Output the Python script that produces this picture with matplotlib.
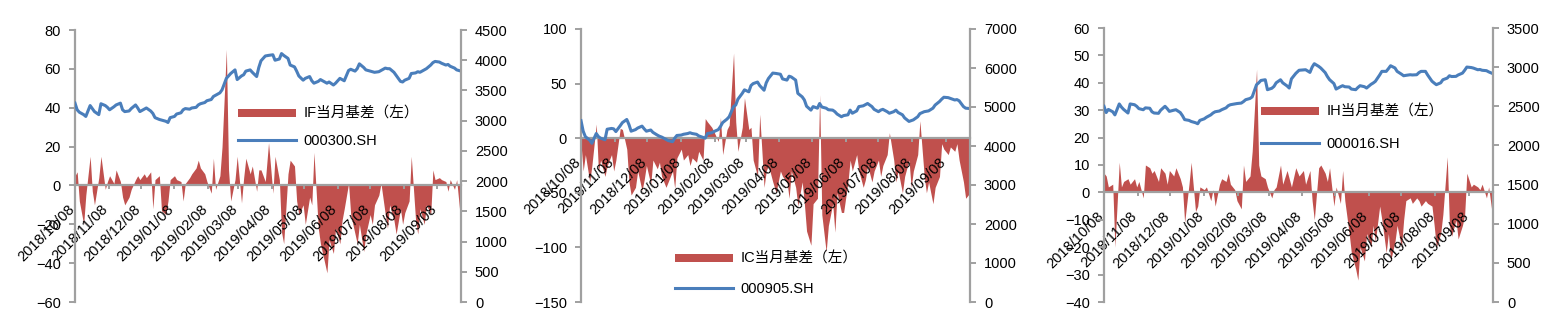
import numpy as np
import pandas as pd
import matplotlib
matplotlib.use('Agg')
import matplotlib.pyplot as plt
import matplotlib.dates as mdates
from matplotlib.transforms import ScaledTranslation

plt.rcParams['font.family'] = ['Liberation Sans', 'Noto Sans CJK SC', 'DejaVu Sans']

# ---------------- data ----------------
trading_days = pd.bdate_range('2018-10-08', '2019-09-30')
N_POINTS = 128
dates = trading_days[np.linspace(0, len(trading_days) - 1, N_POINTS).round().astype(int)]

tick_dates = pd.date_range('2018-10-08', '2019-09-08', freq=pd.DateOffset(months=1))

if_basis = [5, 7, -8, -20, -5, 15, -3, -10, 4, 15, -2, 2, 5, 1, 8, 2, -6, -10, -6, -2,
            3, 5, 3, 6, 4, 7, -12, 3, 5, -13, -15, -8, 3, 5, 3, 2, -8, 1, 4, 6,
            9, 13, 9, 6, 2, -4, 14, -2, 5, 20, 70, 8, -8, 3, 15, -9, 4, 14, 6, 10,
            -3, 8, 8, 2, 22, -4, 15, 3, -24, -30, 6, 13, 10, -8, -15, -10, -20, -6, -10, 17,
            -22, -30, -40, -45, -28, -35, -22, -30, -18, -12, 1, -15, -25, -30, -20, -34, -25, -15, -20, -10,
            -5, 1, -15, -22, -10, -18, -25, -12, -20, -14, -8, 15, -18, -25, -12, -20, -10, -15, 8, 3,
            4, 3, 2, -3, 3, -2, 3, -20]
hs300 = [3290, 3180, 3140, 3100, 3070, 3250, 3200, 3150, 3100, 3280, 3250, 3220, 3180, 3230, 3260, 3290,
         3180, 3150, 3160, 3200, 3260, 3210, 3150, 3190, 3210, 3160, 3120, 3050, 3020, 3010, 2990, 2970,
         3050, 3070, 3110, 3130, 3180, 3200, 3190, 3210, 3220, 3260, 3280, 3300, 3330, 3350, 3400, 3420,
         3460, 3510, 3700, 3740, 3780, 3840, 3680, 3740, 3760, 3820, 3840, 3800, 3730, 3880, 3990, 4070,
         4080, 4090, 4000, 4020, 4110, 4080, 4030, 3920, 3890, 3820, 3740, 3670, 3700, 3730, 3660, 3620,
         3650, 3680, 3640, 3620, 3640, 3590, 3620, 3700, 3680, 3660, 3830, 3850, 3820, 3860, 3940, 3880,
         3840, 3820, 3810, 3800, 3810, 3830, 3870, 3860, 3860, 3800, 3750, 3650, 3640, 3670, 3700, 3780,
         3790, 3810, 3800, 3840, 3860, 3920, 3960, 3980, 3970, 3950, 3920, 3930, 3900, 3870, 3840, 3820]

ic_basis = [-5, -30, -15, -40, -25, 13, -30, -20, -35, -25, -15, -30, -20, 9, 8, -10, -40, -52, -45, -30,
            -48, -38, -25, -42, -20, -28, -22, -35, -45, -40, -30, -46, -18, -10, -20, -15, -25, -18, -22, -12,
            -20, 18, 15, 10, 6, -3, 19, -15, 8, 12, 78, 15, -12, 10, 37, 8, 10, -20, -35, 22,
            -45, -30, -25, -40, -50, -30, -35, -40, -55, -30, -45, -62, -40, -60, -85, -98, -60, -55, 40, -70,
            -104, -80, -60, -86, -50, -68, -68, -40, -20, -30, -15, -30, -45, -38, -25, -40, -30, -20, -35, -25,
            -15, 5, -20, -40, -30, -50, -35, -20, -45, -30, -15, 16, -35, -50, -40, -60, -45, -35, -5, -10,
            -15, -8, -12, -5, -20, -40, -55, -50]
csi500 = [4650, 4380, 4240, 4150, 4070, 4320, 4240, 4200, 4160, 4430, 4450, 4440, 4370, 4520, 4600, 4680,
          4550, 4380, 4420, 4460, 4510, 4440, 4380, 4410, 4350, 4280, 4250, 4230, 4170, 4140, 4110, 4200,
          4270, 4280, 4300, 4320, 4340, 4320, 4300, 4260, 4220, 4200, 4320, 4340, 4370, 4420, 4500, 4600,
          4690, 4750, 5010, 5050, 5200, 5350, 5440, 5390, 5550, 5600, 5640, 5550, 5430, 5620, 5730, 5870,
          5860, 5840, 5720, 5690, 5790, 5770, 5690, 5350, 5260, 5180, 5020, 4920, 5010, 4970, 5090, 5000,
          4970, 4930, 4920, 4880, 4820, 4750, 4780, 4800, 4920, 4840, 4900, 5010, 5030, 5060, 5090, 5010,
          4940, 4880, 4920, 4940, 4880, 4840, 4880, 4920, 4860, 4800, 4720, 4630, 4650, 4670, 4750, 4830,
          4880, 4890, 4900, 4970, 5050, 5140, 5200, 5250, 5240, 5220, 5180, 5190, 5160, 5010, 4970, 4960]

ih_basis = [7, 6, 2, 3, -20, 11, 2, 4, 5, 3, 5, 2, 4, -2, 10, 9, 7, 8, 4, 9,
            7, 3, 8, 6, 9, 5, 2, -11, 3, 11, -7, -5, 2, 1, 2, -3, 1, -5, 3, 5,
            4, 7, 3, 1, -3, -6, 10, 4, 6, 15, 45, 10, 6, 5, 2, -2, 1, 2, 10, 3,
            8, 5, 2, 9, 6, 8, 3, 8, -3, -10, 9, 10, 7, 4, 9, -5, 2, -4, 8, -3,
            -15, -22, -28, -32, -20, -25, -15, -20, -12, -18, -5, -10, -22, -15, -25, -18, -12, -20, -10, -3,
            -2, -4, -2, -3, -5, -3, -4, -5, -12, -20, -15, -8, 13, -12, -16, -10, -17, -12, -8, 7,
            2, 3, 2, 1, 3, -2, 2, -10]
sse50 = [2500, 2420, 2460, 2430, 2390, 2530, 2490, 2460, 2414, 2530, 2520, 2500, 2470, 2456, 2480, 2475,
         2430, 2414, 2410, 2450, 2500, 2470, 2435, 2450, 2456, 2420, 2380, 2330, 2320, 2306, 2290, 2277,
         2320, 2340, 2360, 2390, 2414, 2430, 2440, 2456, 2480, 2507, 2520, 2530, 2535, 2541, 2560, 2584,
         2600, 2620, 2776, 2800, 2830, 2839, 2712, 2730, 2754, 2800, 2839, 2800, 2760, 2733, 2850, 2920,
         2960, 2965, 2967, 2933, 3000, 3044, 3010, 2988, 2930, 2880, 2840, 2790, 2720, 2750, 2763, 2750,
         2746, 2720, 2712, 2740, 2763, 2750, 2733, 2780, 2797, 2818, 2900, 2946, 2946, 2980, 3018, 2990,
         2946, 2910, 2890, 2895, 2903, 2900, 2903, 2930, 2946, 2946, 2900, 2820, 2797, 2776, 2800, 2839,
         2860, 2890, 2880, 2882, 2900, 2924, 2960, 3001, 2995, 2988, 2967, 2970, 2960, 2955, 2940, 2916]

if_label, hs300_label = 'IF当月基差（左）', '000300.SH'
ic_label, csi500_label = 'IC当月基差（左）', '000905.SH'
ih_label, sse50_label = 'IH当月基差（左）', '000016.SH'

if_left_ticks = list(range(-60, 81, 20))
if_right_ticks = list(range(0, 4501, 500))
ic_left_ticks = list(range(-150, 101, 50))
ic_right_ticks = list(range(0, 7001, 1000))
ih_left_ticks = list(range(-40, 61, 10))
ih_right_ticks = list(range(0, 3501, 500))

# ---------------- style ----------------
RED = '#C0504D'
BLUE = '#4A7EBB'
GRAY = '#A0A0A0'
FS = 10.5

W, H = 1554, 321
fig = plt.figure(figsize=(W / 100, H / 100), dpi=100)


def px_rect(x0, x1, ytop, ybot):
    return [x0 / W, 1 - ybot / H, (x1 - x0) / W, (ybot - ytop) / H]


def panel(rect, basis, index, b_label, i_label, lticks, rticks, leg_xy, spacing):
    ax = fig.add_axes(rect)
    area = ax.fill_between(dates, 0, basis, color=RED, linewidth=0, label=b_label)
    ax.set_xlim(pd.Timestamp('2018-10-08'), pd.Timestamp('2019-09-30'))
    ax.set_ylim(lticks[0], lticks[-1])
    ax.set_yticks(lticks)
    ax.patch.set_visible(False)

    ax2 = ax.twinx()
    line, = ax2.plot(dates, index, color=BLUE, lw=2.2, label=i_label, solid_joinstyle='round')
    ax2.set_ylim(rticks[0], rticks[-1])
    ax2.set_yticks(rticks)

    for a in (ax, ax2):
        for s in a.spines.values():
            s.set_visible(False)
    ax.spines['left'].set_visible(True)
    ax.spines['left'].set_color(GRAY)
    ax.spines['left'].set_linewidth(1.6)
    ax.spines['bottom'].set_visible(True)
    ax.spines['bottom'].set_position(('data', 0))
    ax.spines['bottom'].set_color(GRAY)
    ax.spines['bottom'].set_linewidth(1.6)
    ax2.spines['right'].set_visible(True)
    ax2.spines['right'].set_color(GRAY)
    ax2.spines['right'].set_linewidth(1.6)

    ax.tick_params(axis='y', direction='out', length=4, width=1.4, color=GRAY,
                   labelsize=FS, pad=6)
    ax2.tick_params(axis='y', direction='out', length=4, width=1.4, color=GRAY,
                    labelsize=FS, pad=6)
    ax.set_xticks(tick_dates)
    ax.xaxis.set_major_formatter(mdates.DateFormatter('%Y/%m/%d'))
    ax.tick_params(axis='x', direction='out', length=3, width=1.4, color=GRAY,
                   labelsize=FS, pad=9)
    shift = ScaledTranslation(2 / 100, 0, fig.dpi_scale_trans)
    for lab in ax.get_xticklabels():
        lab.set_rotation(45)
        lab.set_ha('right')
        lab.set_va('top')
        lab.set_transform(lab.get_transform() + shift)

    fig.legend([area, line], [b_label, i_label], loc='upper left',
               bbox_to_anchor=(leg_xy[0] / W, 1 - leg_xy[1] / H),
               bbox_transform=fig.transFigure, frameon=False, fontsize=FS,
               handlelength=4.0, handleheight=0.5, handletextpad=0.5,
               labelspacing=spacing, borderpad=0, borderaxespad=0)


panel(px_rect(75, 461, 30, 302), if_basis, hs300, if_label, hs300_label,
      if_left_ticks, if_right_ticks, (238, 107), 0.86)
panel(px_rect(581, 970, 29, 302), ic_basis, csi500, ic_label, csi500_label,
      ic_left_ticks, ic_right_ticks, (675, 252), 1.07)
panel(px_rect(1104, 1493, 28, 302), ih_basis, sse50, ih_label, sse50_label,
      ih_left_ticks, ih_right_ticks, (1261, 105), 1.2)

fig.savefig('out.png', dpi=100)
